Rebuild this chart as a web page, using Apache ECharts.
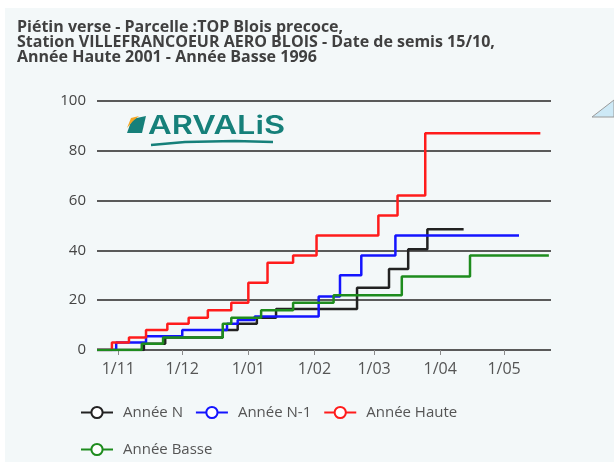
<!DOCTYPE html>
<html lang="fr">
<head>
    <meta charset="utf-8">
    <title>Piétin verse</title>
    <script src="https://cdn.jsdelivr.net/npm/echarts@6/dist/echarts.min.js"></script>
    <style type="text/css">
        html, body {
            margin: 0;
            padding: 0;
            background: #ffffff;
        }

        #main {
            position: absolute;
            left: 5px;
            top: 8px;
            width: 609px;
            height: 454px;
            background: #f3f8f9;
        }
    </style>
</head>
<body>
<div id="main"></div>
<script type="text/javascript">
    // dates des paliers + valeurs
    const datesN = ['2000-10-22', '2000-11-13', '2000-11-23', '2000-12-20', '2000-12-27', '2001-01-05', '2001-01-14',
        '2001-02-21', '2001-03-08', '2001-03-17', '2001-03-26', '2001-04-12'];
    const valuesN = [0, 2.5, 5, 8, 10.5, 13, 16.5, 25, 32.5, 40.5, 48.5, 48.5];

    const datesN1 = ['2000-10-22', '2000-10-31', '2000-11-14', '2000-12-01', '2000-12-22', '2000-12-27', '2001-01-04',
        '2001-02-03', '2001-02-13', '2001-02-23', '2001-03-11', '2001-05-08'];
    const valuesN1 = [0, 3, 5.5, 8, 10.5, 12, 13.5, 21.5, 30, 38, 46, 46];

    const datesHaute = ['2000-10-22', '2000-10-29', '2000-11-06', '2000-11-14', '2000-11-24', '2000-12-04', '2000-12-13',
        '2000-12-24', '2001-01-01', '2001-01-10', '2001-01-22', '2001-02-02', '2001-03-03', '2001-03-12',
        '2001-03-25', '2001-05-18'];
    const valuesHaute = [0, 3, 5, 8, 10.5, 13, 16, 19, 27, 35, 38, 46, 54, 62, 87, 87];

    const datesBasse = ['2000-10-22', '2000-11-12', '2000-11-22', '2000-12-20', '2000-12-24', '2001-01-07', '2001-01-22',
        '2001-02-10', '2001-03-14', '2001-04-15', '2001-05-22'];
    const valuesBasse = [0, 2.5, 5, 10.5, 13, 16, 19, 22, 29.5, 38, 38];

    const seriesNames = ['Année N', 'Année N-1', 'Année Haute', 'Année Basse'];
    const seriesColors = ['#222222', '#1414ff', '#ff1c1c', '#1e8c1e'];

    const titleText = 'Piétin verse - Parcelle :TOP Blois precoce,\n' +
        'Station VILLEFRANCOEUR AERO BLOIS - Date de semis 15/10,\n' +
        'Année Haute 2001 - Année Basse 1996';

    function zip(dates, values) {
        return dates.map(function (d, i) {
            return [d, values[i]];
        });
    }

    function pad(n) {
        return n < 10 ? '0' + n : '' + n;
    }

    const allData = [zip(datesN, valuesN), zip(datesN1, valuesN1), zip(datesHaute, valuesHaute), zip(datesBasse, valuesBasse)];

    let myChart = echarts.init(document.getElementById('main'));

    let option = {
        backgroundColor: '#f3f8f9',
        animation: false,
        textStyle: {fontFamily: 'Open Sans'},
        title: {
            text: titleText,
            left: 7,
            top: 7,
            textStyle: {
                fontFamily: 'Open Sans',
                fontSize: 16,
                fontWeight: 'bold',
                color: '#404040',
                lineHeight: 15
            }
        },
        legend: [{
            data: seriesNames.slice(0, 3),
            left: 70,
            top: 392,
            itemWidth: 32,
            itemHeight: 14,
            itemGap: 12,
            textStyle: {fontSize: 15, color: '#555555', padding: [0, 0, 0, 5]}
        }, {
            data: seriesNames.slice(3),
            left: 70,
            top: 429,
            itemWidth: 32,
            itemHeight: 14,
            textStyle: {fontSize: 15, color: '#555555', padding: [0, 0, 0, 5]}
        }],
        grid: {
            left: 92,
            right: 63,
            top: 93,
            bottom: 112,
            containLabel: false
        },
        xAxis: {
            type: 'time',
            min: +new Date(2000, 9, 22),
            max: +new Date(2001, 4, 23),
            splitNumber: 7,
            minInterval: 28 * 864e5,
            maxInterval: 31 * 864e5,
            axisLine: {show: false},
            axisTick: {show: true, length: 5, lineStyle: {color: '#8a8a8a', width: 1}},
            splitLine: {show: false},
            axisLabel: {
                color: '#555555',
                fontSize: 16,
                margin: 11,
                showMinLabel: false,
                showMaxLabel: false,
                formatter: function (value) {
                    let d = new Date(value);
                    return d.getDate() + '/' + pad(d.getMonth() + 1);
                }
            }
        },
        yAxis: {
            type: 'value',
            min: 0,
            max: 100,
            interval: 20,
            axisLine: {show: false},
            axisTick: {show: false},
            axisLabel: {color: '#444444', fontSize: 15, margin: 11},
            splitLine: {lineStyle: {color: '#5a5a5a', width: 2}}
        },
        series: seriesNames.map(function (name, i) {
            return {
                name: name,
                type: 'line',
                step: 'end',
                data: allData[i],
                symbol: 'emptyCircle',
                symbolSize: 12,
                showSymbol: false,
                color: seriesColors[i],
                lineStyle: {width: 2.5, color: seriesColors[i]},
                itemStyle: {color: seriesColors[i], borderWidth: 2.5}
            };
        }),
        graphic: [
            // logo ARVALIS
            {
                type: 'polygon',
                shape: {points: [[122, 125], [127, 111], [141, 108], [137, 125]]},
                style: {fill: '#16807a'}
            },
            {
                type: 'polygon',
                shape: {points: [[122, 120], [126, 110], [134, 108], [128, 113]]},
                style: {fill: '#f5a623'}
            },
            {
                type: 'text',
                x: 143,
                y: 106,
                scaleX: 1.3,
                style: {
                    text: 'ARVALiS',
                    font: '600 25px Inter',
                    fill: '#16807a'
                }
            },
            {
                type: 'polyline',
                shape: {points: [[146, 137], [180, 134], [230, 133], [268, 134]]},
                style: {stroke: '#16807a', lineWidth: 2.5, fill: null}
            },
            // triangle en haut à droite
            {
                type: 'polygon',
                shape: {points: [[587, 109], [609, 92], [609, 109]]},
                style: {fill: '#cde9f6', stroke: '#9a9a9a', lineWidth: 1}
            }
        ]
    };

    myChart.setOption(option);
</script>
</body>
</html>
